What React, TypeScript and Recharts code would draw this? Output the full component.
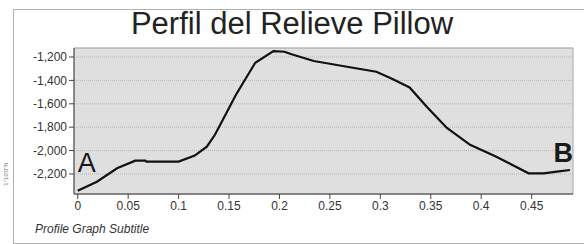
import {
  LineChart,
  Line,
  XAxis,
  YAxis,
  CartesianGrid,
  ReferenceArea,
  ReferenceDot,
} from "recharts";

// distance along the profile (x) and elevation (y)
const distance = [
  0, 0.019, 0.039, 0.057, 0.067, 0.068, 0.1, 0.116, 0.128, 0.136, 0.141,
  0.157, 0.176, 0.194, 0.205, 0.212, 0.234, 0.267, 0.296, 0.311, 0.329,
  0.346, 0.366, 0.389, 0.415, 0.447, 0.462, 0.475, 0.488,
];
const elevation = [
  -2343, -2266, -2151, -2086, -2086, -2094, -2094, -2043, -1966, -1865, -1783,
  -1520, -1249, -1149, -1155, -1177, -1234, -1283, -1326, -1383, -1460,
  -1626, -1806, -1951, -2052, -2194, -2194, -2180, -2166,
];

const xTicks = [0, 0.05, 0.1, 0.15, 0.2, 0.25, 0.3, 0.35, 0.4, 0.45];
const yTicks = [-2200, -2000, -1800, -1600, -1400, -1200];
const xDomain = [-0.0037, 0.491];
const yDomain = [-2371, -1123];

const title = "Perfil del Relieve Pillow";
const subtitle = "Profile Graph Subtitle";
const sideNote = "1°10'0\"N";

const data = distance.map((d, i) => ({ d, z: elevation[i] }));

const FONT = "'Liberation Sans', Arial, sans-serif";

function formatElev(v: number): string {
  return v.toLocaleString("en-US");
}

function pointLabel(text: string, anchor: "start" | "end", bold: boolean) {
  return ({ viewBox }: any) => {
    if (!viewBox) return null;
    const cx = viewBox.x + (viewBox.width || 0) / 2;
    const cy = viewBox.y + (viewBox.height || 0) / 2;
    return (
      <text
        x={cx}
        y={cy}
        textAnchor={anchor}
        fontFamily={FONT}
        fontSize={27}
        fontWeight={bold ? 700 : 400}
        fill="#1a1a1a"
      >
        {text}
      </text>
    );
  };
}

export default function App() {
  return (
    <div
      style={{
        position: "absolute",
        left: 0,
        top: 0,
        width: 584,
        height: 244,
        background: "#fff",
        overflow: "hidden",
        fontFamily: FONT,
      }}
    >
      {/* outer frame */}
      <div
        style={{
          position: "absolute",
          left: 13,
          top: 9,
          width: 600,
          height: 233,
          border: "1px solid #b0b0b0",
        }}
      />
      <div
        style={{
          position: "absolute",
          left: 0,
          top: 7,
          width: 584,
          textAlign: "center",
          fontSize: 31,
          color: "#222",
          lineHeight: "34px",
        }}
      >
        {title}
      </div>
      <div
        style={{
          position: "absolute",
          left: 35,
          top: 222,
          fontSize: 12,
          fontStyle: "italic",
          color: "#333",
        }}
      >
        {subtitle}
      </div>
      <div
        style={{
          position: "absolute",
          left: 2,
          top: 174,
          fontSize: 6,
          color: "#777",
          transform: "translate(-50%, -50%) rotate(-90deg)",
          transformOrigin: "center",
          whiteSpace: "nowrap",
          marginLeft: 4,
        }}
      >
        {sideNote}
      </div>
      <div style={{ position: "absolute", left: 0, top: 0 }}>
        <LineChart
          width={584}
          height={244}
          data={data}
          margin={{ top: 48, right: 11, bottom: 20, left: 14 }}
        >
          <CartesianGrid
            vertical={false}
            fill="#dfdfdf"
            fillOpacity={1}
            stroke="#b4b4b4"
            strokeDasharray="1 1"
          />
          <ReferenceArea
            x1={xDomain[0]}
            x2={xDomain[1]}
            y1={yDomain[0]}
            y2={yDomain[1]}
            fill="none"
            stroke="#a8a8a8"
            strokeWidth={1}
            ifOverflow="extendDomain"
          />
          <XAxis
            dataKey="d"
            type="number"
            domain={xDomain}
            ticks={xTicks}
            allowDataOverflow
            tickFormatter={(v: number) => String(v)}
            tick={{ fill: "#333", fontSize: 12, fontFamily: FONT }}
            axisLine={{ stroke: "#444" }}
            tickLine={{ stroke: "#444" }}
            tickSize={5}
            height={30}
          />
          <YAxis
            type="number"
            domain={yDomain}
            ticks={yTicks}
            allowDataOverflow
            tickFormatter={formatElev}
            tick={{ fill: "#333", fontSize: 12, fontFamily: FONT }}
            axisLine={{ stroke: "#444" }}
            tickLine={{ stroke: "#444" }}
            tickSize={5}
            width={60}
          />
          <Line
            type="linear"
            dataKey="z"
            stroke="#111"
            strokeWidth={2.2}
            dot={false}
            isAnimationActive={false}
          />
          <ReferenceDot
            x={0}
            y={-2183}
            r={1}
            fill="none"
            stroke="none"
            label={pointLabel("A", "start", false)}
          />
          <ReferenceDot
            x={0.491}
            y={-2097}
            r={1}
            fill="none"
            stroke="none"
            ifOverflow="visible"
            label={pointLabel("B", "end", true)}
          />
        </LineChart>
      </div>
    </div>
  );
}
